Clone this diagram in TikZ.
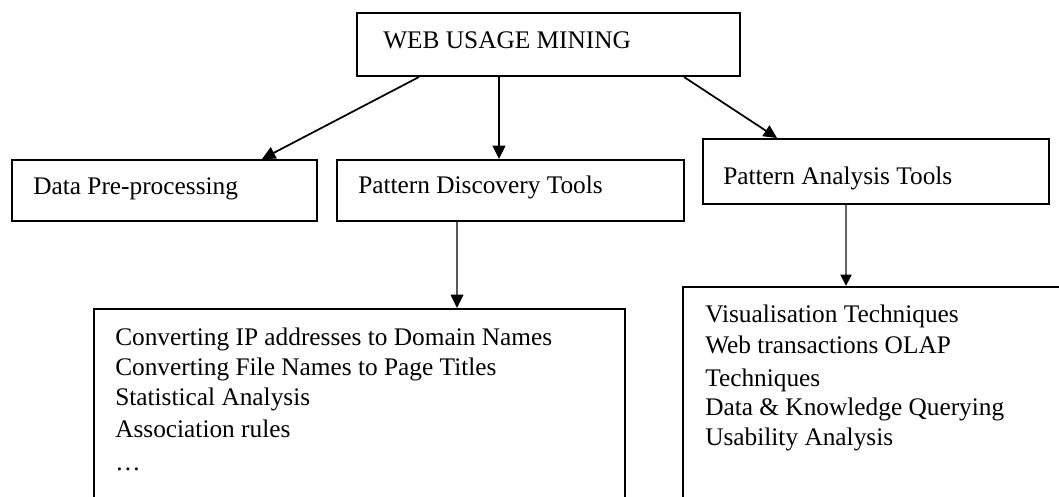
\documentclass[tikz,border=0pt]{standalone}
\usepackage{fontspec}
\setmainfont{Liberation Serif}
\usetikzlibrary{arrows.meta,fit,calc}
\begin{document}
\begin{tikzpicture}[x=0.75pt,y=-0.75pt,
  box/.style={draw=black,line width=1.5pt,inner sep=0pt},
  txt/.style={anchor=base west,inner sep=0pt,font=\fontsize{19}{23}\selectfont},
  conn/.style={draw=black,line width=1.3pt,-{Triangle[length=10pt,width=9.5pt]}},
  gconn/.style={line width=1.1pt,draw=black!65,-{Triangle[length=10pt,width=9.5pt,fill=black,color=black]}},
  gconnw/.style={line width=2.2pt,draw=black!60,-{Triangle[length=8.5pt,width=8pt,fill=black,color=black]}}
]
\clip (0,0) rectangle (1059,496);
\fill[white] (0,0) rectangle (1059,496);

% boxes
\node[box, fit={(357,13) (740,76)}] (top) {};
\node[box, fit={(12,160) (317,221)}] (dp) {};
\node[box, fit={(337,160) (684,221)}] (pd) {};
\node[box, fit={(703,139) (1049,204)}] (pa) {};
\node[box, fit={(94,309) (625,505)}] (bl) {};
\node[box, fit={(683,287) (1068,505)}] (br) {};

% texts
\node[txt] (t0) at (383,48) {WEB USAGE MINING};
\node[txt] (t1) at (33,194) {Data Pre-processing};
\node[txt] (t2) at (358,193) {Pattern Discovery Tools};
\node[txt] (t3) at (723,184) {Pattern Analysis Tools};

\node[txt] (b1) at (115,345) {Converting IP addresses to Domain Names};
\node[txt] (b2) at (115,375) {Converting File Names to Page Titles};
\node[txt] (b3) at (115,405) {Statistical Analysis};
\node[txt] (b4) at (115,437) {Association rules};
\node[txt] (b5) at (115,470) {…};

\node[txt] (r1) at (705,322) {Visualisation Techniques};
\node[txt] (r2) at (705,353) {Web transactions OLAP};
\node[txt] (r3) at (705,386) {Techniques};
\node[txt] (r4) at (705,415) {Data \& Knowledge Querying};
\node[txt] (r5) at (705,445) {Usability Analysis};

% connectors
\draw[conn] ($(top.south west)+(63,0)$) -- ($(dp.north west)+(251,0)$);
\draw[conn] ($(top.south west)+(143,0)$) -- ($(pd.north west)+(163,0)$);
\draw[conn] ($(top.south west)+(328,0)$) -- ($(pa.north west)+(75,0)$);
\draw[gconn] ($(pd.south west)+(121,0)$) -- ($(bl.north west)+(364,0)$);
\draw[gconnw] ($(pa.south west)+(144,0)$) -- ($(br.north west)+(164,0)$);
\end{tikzpicture}
\end{document}
